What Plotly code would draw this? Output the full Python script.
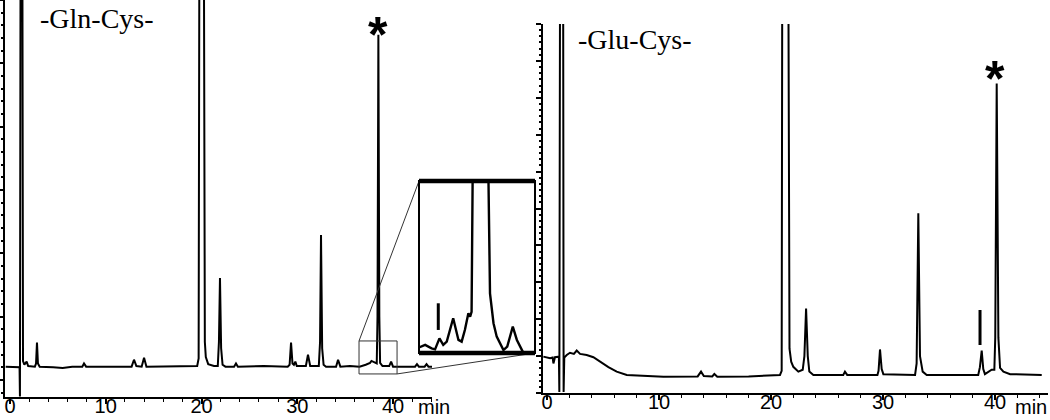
import plotly.graph_objects as go

# ---------------- data ----------------
# Left chromatogram: -Gln-Cys-  (time in min, detector signal, arbitrary units)
gln_time = [-0.45, 0.95, 1.0, 1.04, 1.10, 1.30, 1.36, 1.5, 1.74, 1.9, 2.6, 2.72, 2.82, 2.92, 3.1,
            4.5, 5.5, 6.5, 7.55, 7.73, 7.95, 10.0, 12.7, 12.95, 13.2, 13.75, 14.0, 14.25, 17.0,
            19.55, 19.7, 19.77, 20.26, 20.35, 20.45, 20.7, 21.3, 21.7, 21.82, 21.93, 22.05, 22.2,
            22.5, 23.4, 23.6, 23.8, 26.5, 29.0, 29.2, 29.35, 29.5, 29.65, 29.8, 29.95, 30.9, 31.12,
            31.35, 32.25, 32.38, 32.48, 32.6, 32.75, 33.0, 34.05, 34.26, 34.5, 35.5, 36.5, 37.15,
            37.6, 37.75, 38.0, 38.3, 38.38, 38.47, 38.57, 38.65, 38.9, 39.6, 39.8, 40.0, 41.0,
            42.3, 42.5, 42.7, 43.3, 43.5, 43.7, 44.07]
gln_signal = [2.1, 2.1, 2.0, -2.6, 62, 62, 3.0, 2.4, 2.9, 2.2, 2.1, 2.6, 5.9, 2.6, 2.1,
              2.0, 1.9, 2.1, 2.1, 2.6, 2.1, 2.1, 2.1, 3.2, 2.2, 2.1, 3.5, 2.1, 2.1,
              2.2, 3.4, 62, 62, 6.0, 3.6, 2.5, 2.2, 2.2, 6.0, 16.1, 5.0, 2.4,
              2.1, 2.1, 2.6, 2.1, 2.2, 2.1, 2.4, 5.9, 2.6, 2.4, 2.9, 2.2, 2.2, 4.0,
              2.2, 2.2, 6.0, 22.9, 5.0, 2.4, 2.1, 2.1, 3.2, 2.1, 2.2, 2.1, 2.4,
              2.7, 3.0, 2.8, 2.6, 10.0, 54.5, 10.0, 2.7, 2.2, 2.2, 2.9, 2.1, 2.1,
              2.1, 2.5, 2.1, 2.1, 2.5, 2.1, 2.1]

# Inset: enlarged view of the -Gln-Cys- trace between 36.45 and 40.42 min
inset_time = [36.45, 36.51, 36.66, 36.88, 37.0, 37.15, 37.28, 37.4, 37.62, 37.8, 37.91, 38.02,
              38.14, 38.2, 38.25, 38.29, 38.82, 38.88, 39.0, 39.11, 39.34, 39.47, 39.66, 39.8,
              39.91, 40.0]
inset_signal = [3.2, 3.7, 4.7, 2.7, 2.1, 8.5, 4.7, 6.6, 20.2, 7.6, 6.6, 13.4,
                23.1, 21.1, 24.0, 110, 110, 34.7, 17.3, 9.5, 1.7, 3.7, 15.3, 7.6,
                3.7, 0.8]
zoom_window = [36.45, 40.42]       # time window of the small box
zoom_level = [0.95, 6.16]          # signal window of the small box
inset_mark_time = 37.11            # "|" mark in the inset
inset_mark_level = [13.4, 28.9]

# Right chromatogram: -Glu-Cys-
glu_time = [-0.33, 0.27, 0.5, 0.57, 0.71, 1.06, 1.10, 1.16, 1.44, 1.48, 1.54, 1.76, 2.05, 2.4,
            2.65, 2.95, 3.54, 4.14, 4.73, 5.48, 6.22, 7.12, 10.39, 13.45, 13.75, 14.0, 14.75,
            14.94, 15.2, 18.0, 20.8, 20.95, 21.0, 21.55, 21.65, 21.8, 21.99, 22.44, 22.83, 22.98,
            23.13, 23.28, 23.42, 23.78, 26.45, 26.6, 26.8, 29.5, 29.6, 29.73, 29.88, 30.03, 32.86,
            33.0, 33.15, 33.3, 33.54, 33.9, 38.5, 38.65, 38.81, 38.95, 39.1, 39.7, 39.94, 40.02,
            40.15, 40.3, 40.45, 40.75, 41.35, 44.17]
glu_signal = [9.85, 9.4, 9.6, 8.0, 9.7, 9.85, 0.3, 110, 110, 0.3, 9.6, 10.3, 10.9, 10.6,
              11.5, 10.6, 10.3, 9.7, 8.5, 7.0, 5.8, 4.9, 4.4, 4.5, 5.8, 4.6, 4.5,
              5.15, 4.4, 4.5, 4.9, 6.0, 110, 110, 12.0, 8.5, 7.1, 5.8, 6.3, 10.0,
              22.9, 10.0, 5.8, 4.9, 4.9, 5.8, 4.9, 4.9, 6.0, 11.8, 6.5, 5.1, 4.9,
              8.0, 48.7, 10.0, 5.8, 4.9, 4.9, 7.0, 11.5, 6.5, 5.1, 6.3, 6.3, 15.0,
              83.9, 15.0, 6.8, 5.8, 5.1, 4.9]
glu_mark_time = 38.66
glu_mark_level = [13.0, 22.5]

star_left = (38.43, 55.8)
star_right = (40.0, 87.3)

tick_vals = [0, 10, 20, 30, 40]
tick_text = ["0", "10", "20", "30", "40"]

# ---------------- layout geometry ----------------
W, H = 1050, 420
x1_dom = [5 / W, 432 / W]
y1_dom = [1 - 397 / H, 1.0]
x1_rng = [-0.52, 44.07]
y1_rng = [-2.69, 60.0]

x2_dom = [543 / W, 1048 / W]
y2_dom = [1 - 393 / H, 1 - 24 / H]
x2_rng = [-0.36, 44.73]
y2_rng = [0, 100]

x3_dom = [419 / W, 535 / W]
y3_dom = [1 - 353 / H, 1 - 181 / H]
y3_rng = [0, 100]

tick_font = dict(family="Liberation Sans, Arial", size=20, color="black")
label_font = dict(family="Liberation Serif, Times New Roman, serif", size=28, color="black")

fig = go.Figure()
fig.add_trace(go.Scatter(x=gln_time, y=gln_signal, mode="lines", xaxis="x", yaxis="y",
                         line=dict(color="black", width=2), showlegend=False, hoverinfo="skip"))
fig.add_trace(go.Scatter(x=glu_time, y=glu_signal, mode="lines", xaxis="x2", yaxis="y2",
                         line=dict(color="black", width=2), showlegend=False, hoverinfo="skip"))
fig.add_trace(go.Scatter(x=inset_time, y=inset_signal, mode="lines", xaxis="x3", yaxis="y3",
                         line=dict(color="black", width=2.4), showlegend=False, hoverinfo="skip"))

xcommon = dict(showgrid=False, zeroline=False, showline=True, linecolor="black", linewidth=2,
               automargin=False,
               ticks="outside", ticklen=5, tickwidth=1.5, tickcolor="black",
               tickvals=tick_vals, ticktext=tick_text, tickfont=tick_font,
               ticklabelstandoff=-15,
               minor=dict(dtick=2, ticks="outside", ticklen=3, tickwidth=1, tickcolor="black"))
ycommon = dict(showgrid=False, zeroline=False, showline=True, linecolor="black", linewidth=2,
               automargin=False,
               ticks="outside", ticklen=5, tickwidth=1.5, tickcolor="black", showticklabels=False)

fig.update_layout(
    width=W, height=H, margin=dict(l=0, r=0, t=0, b=0, autoexpand=False),
    paper_bgcolor="white", plot_bgcolor="white",
    xaxis=dict(domain=x1_dom, range=x1_rng, anchor="y", **xcommon),
    yaxis=dict(domain=y1_dom, range=y1_rng, anchor="x", dtick=10, tick0=0,
               minor=dict(dtick=2, ticks="outside", ticklen=2.5, tickwidth=1.5, tickcolor="black"),
               **ycommon),
    xaxis2=dict(domain=x2_dom, range=x2_rng, anchor="y2", **xcommon),
    yaxis2=dict(domain=y2_dom, range=y2_rng, anchor="x2", dtick=10, tick0=0,
                minor=dict(dtick=10 / 6, ticks="outside", ticklen=2.5, tickwidth=1.5, tickcolor="black"),
                **ycommon),
    xaxis3=dict(domain=x3_dom, range=zoom_window, anchor="y3", visible=False, automargin=False),
    yaxis3=dict(domain=y3_dom, range=y3_rng, anchor="x3", visible=False, automargin=False),
)


def to_paper(x, y, xdom, xrng, ydom, yrng):
    px = xdom[0] + (x - xrng[0]) / (xrng[1] - xrng[0]) * (xdom[1] - xdom[0])
    py = ydom[0] + (y - yrng[0]) / (yrng[1] - yrng[0]) * (ydom[1] - ydom[0])
    return px, py


shapes = []
# small zoom box on the left chromatogram
shapes.append(dict(type="rect", xref="x", yref="y", x0=zoom_window[0], x1=zoom_window[1],
                   y0=zoom_level[0], y1=zoom_level[1], line=dict(color="#333", width=1)))
# connector lines
a = to_paper(zoom_window[0], zoom_level[1], x1_dom, x1_rng, y1_dom, y1_rng)
shapes.append(dict(type="line", xref="paper", yref="paper", x0=a[0], y0=a[1],
                   x1=x3_dom[0], y1=y3_dom[1], line=dict(color="#333", width=1)))
b = to_paper(zoom_window[1], zoom_level[0], x1_dom, x1_rng, y1_dom, y1_rng)
shapes.append(dict(type="line", xref="paper", yref="paper", x0=b[0], y0=b[1],
                   x1=x3_dom[1], y1=y3_dom[0], line=dict(color="#333", width=1)))
# inset frame: thin sides, thick top and bottom
shapes.append(dict(type="rect", xref="x3 domain", yref="y3 domain", x0=0, x1=1, y0=0, y1=1,
                   line=dict(color="black", width=2), fillcolor="rgba(0,0,0,0)"))
for yy in (0, 1):
    shapes.append(dict(type="line", xref="x3 domain", yref="y3 domain", x0=0, x1=1, y0=yy, y1=yy,
                       line=dict(color="black", width=4.5)))
# "|" marks
shapes.append(dict(type="line", xref="x3", yref="y3", x0=inset_mark_time, x1=inset_mark_time,
                   y0=inset_mark_level[0], y1=inset_mark_level[1], line=dict(color="black", width=3)))
shapes.append(dict(type="line", xref="x2", yref="y2", x0=glu_mark_time, x1=glu_mark_time,
                   y0=glu_mark_level[0], y1=glu_mark_level[1], line=dict(color="black", width=3)))
fig.update_layout(shapes=shapes)

ann = []
ann.append(dict(text="-Gln-Cys-", xref="paper", yref="paper", x=38 / W, y=1 - 19 / H,
                xanchor="left", yanchor="middle", showarrow=False, font=label_font))
ann.append(dict(text="-Glu-Cys-", xref="paper", yref="paper", x=576 / W, y=1 - 39 / H,
                xanchor="left", yanchor="middle", showarrow=False, font=label_font))
ann.append(dict(text="min", xref="paper", yref="paper", x=416 / W, y=1 - 407 / H,
                xanchor="left", yanchor="middle", showarrow=False, font=tick_font))
ann.append(dict(text="min", xref="paper", yref="paper", x=1013 / W, y=1 - 407 / H,
                xanchor="left", yanchor="middle", showarrow=False, font=tick_font))
star_font = dict(family="Liberation Sans, Arial", size=50, color="black", weight="bold")
ann.append(dict(text="*", xref="x", yref="y", x=star_left[0], y=star_left[1], yshift=-8,
                xanchor="center", yanchor="middle", showarrow=False, font=star_font))
ann.append(dict(text="*", xref="x2", yref="y2", x=star_right[0], y=star_right[1], yshift=-8,
                xanchor="center", yanchor="middle", showarrow=False, font=star_font))
fig.update_layout(annotations=ann)

fig.write_html("out.html", config={"displayModeBar": False},
               post_script="document.body.style.margin='0';document.body.style.padding='0';")
